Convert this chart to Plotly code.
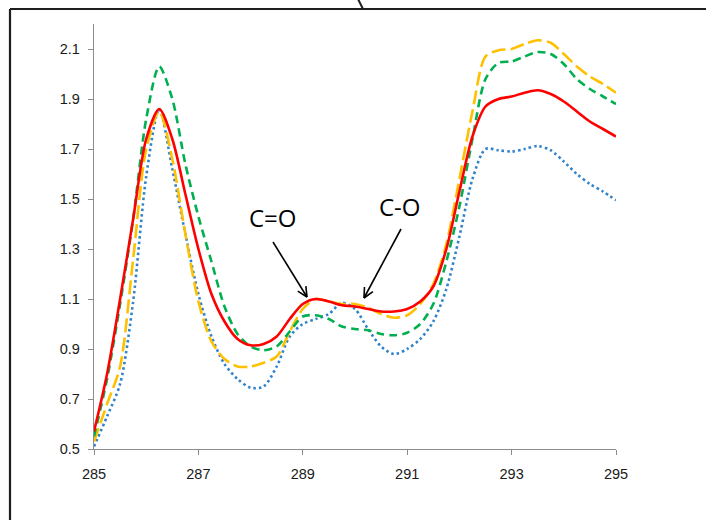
import plotly.graph_objects as go

# Binding energy (eV) grid shared by all four spectra
energy = [285, 285.25, 285.5, 285.75, 286, 286.25, 286.5, 286.75, 287, 287.25,
          287.5, 287.75, 288, 288.25, 288.5, 288.75, 289, 289.25, 289.5, 289.75,
          290, 290.25, 290.5, 290.75, 291, 291.25, 291.5, 291.75, 292, 292.25,
          292.5, 292.75, 293, 293.25, 293.5, 293.75, 294, 294.25, 294.5, 294.75, 295]

red_series = [0.57, 0.80, 1.10, 1.42, 1.74, 1.86, 1.74, 1.52, 1.30, 1.12,
              1.01, 0.94, 0.915, 0.92, 0.95, 1.02, 1.08, 1.10, 1.09, 1.075,
              1.07, 1.06, 1.05, 1.05, 1.06, 1.09, 1.15, 1.30, 1.53, 1.75,
              1.87, 1.90, 1.91, 1.925, 1.935, 1.92, 1.89, 1.85, 1.81, 1.78, 1.75]

green_series = [0.55, 0.78, 1.08, 1.42, 1.82, 2.03, 1.90, 1.64, 1.43, 1.25,
                1.07, 0.96, 0.91, 0.895, 0.91, 0.97, 1.03, 1.035, 1.02, 0.99,
                0.98, 0.975, 0.96, 0.955, 0.965, 1.00, 1.08, 1.25, 1.47, 1.74,
                1.98, 2.045, 2.05, 2.07, 2.088, 2.08, 2.04, 1.98, 1.94, 1.91, 1.88]

yellow_series = [0.53, 0.68, 0.83, 1.26, 1.70, 1.85, 1.66, 1.36, 1.09, 0.93,
                 0.86, 0.83, 0.83, 0.845, 0.87, 0.97, 1.06, 1.10, 1.09, 1.08,
                 1.08, 1.065, 1.04, 1.025, 1.035, 1.08, 1.16, 1.32, 1.58, 1.85,
                 2.07, 2.095, 2.10, 2.12, 2.135, 2.125, 2.08, 2.03, 1.99, 1.96, 1.925]

blue_series = [0.51, 0.63, 0.76, 1.09, 1.59, 1.86, 1.62, 1.36, 1.12, 0.95,
               0.84, 0.78, 0.745, 0.75, 0.83, 0.95, 1.00, 1.02, 1.04, 1.085,
               1.06, 0.98, 0.91, 0.88, 0.90, 0.94, 1.01, 1.14, 1.35, 1.58,
               1.70, 1.695, 1.69, 1.70, 1.712, 1.695, 1.65, 1.60, 1.56, 1.53, 1.495]

x_ticks = [285, 287, 289, 291, 293, 295]
y_ticks = [0.5, 0.7, 0.9, 1.1, 1.3, 1.5, 1.7, 1.9, 2.1]

W, H = 706, 520
ML, MR, MT, MB = 94, 90, 24, 71
PW, PH = W - ML - MR, H - MT - MB


def px(x, y):
    """Convert page pixels to paper fractions."""
    return (x - ML) / PW, (H - MB - y) / PH


fig = go.Figure()
styles = [
    (blue_series, "#2F83CC", "2.5px,3px"),
    (yellow_series, "#FFC000", "14px,5px"),
    (green_series, "#00B050", "8px,5px"),
    (red_series, "#FF0000", None),
]
for ys, col, dash in styles:
    line = dict(color=col, width=2.6, shape="spline", smoothing=0.8)
    if dash:
        line["dash"] = dash
    fig.add_trace(go.Scatter(x=energy, y=ys, mode="lines", line=line,
                             showlegend=False, hoverinfo="skip"))

shapes = []


def seg(x0, y0, x1, y1, color="#000000", width=1.6):
    a, b = px(x0, y0)
    c, d = px(x1, y1)
    shapes.append(dict(type="line", xref="paper", yref="paper",
                       x0=a, y0=b, x1=c, y1=d,
                       line=dict(color=color, width=width)))


def arrow(x0, y0, x1, y1, head=11, spread=0.45):
    import math
    seg(x0, y0, x1, y1)
    ang = math.atan2(y0 - y1, x0 - x1)
    for s in (-spread, spread):
        seg(x1, y1, x1 + head * math.cos(ang + s), y1 + head * math.sin(ang + s))


# outer frame (left and top edges) and the stray connector at the top
seg(10, 9, 706, 9, color="#1e1e1e", width=2.2)
seg(10, 9, 10, 520, color="#1e1e1e", width=2.2)
seg(358, -1, 363, 9, color="#1e1e1e", width=2)

arrow(273, 242, 307, 297)
arrow(401, 229, 364, 298)

annotations = []
for label, cx, cy in [("C=O", 273, 218), ("C-O", 400, 206)]:
    ax, ay = px(cx, cy)
    annotations.append(dict(text=label, x=ax, y=ay, xref="paper", yref="paper",
                            showarrow=False, xanchor="center", yanchor="middle",
                            font=dict(family="Open Sans", size=24, color="#000000")))

axis_common = dict(showgrid=False, zeroline=False, showline=True,
                   linecolor="#8c8c8c", linewidth=1.3, ticks="outside",
                   ticklen=5, tickcolor="#8c8c8c", tickwidth=1.3,
                   tickfont=dict(family="Liberation Sans", size=14.5, color="#1a1a1a"))

fig.update_layout(
    width=W, height=H,
    margin=dict(l=ML, r=MR, t=MT, b=MB),
    paper_bgcolor="white", plot_bgcolor="white",
    xaxis=dict(range=[285, 295], tickvals=x_ticks, ticklabelstandoff=6, **axis_common),
    yaxis=dict(range=[0.5, 2.2], tickvals=y_ticks, tickformat=".1f",
               ticklabelstandoff=5, **axis_common),
    shapes=shapes,
    annotations=annotations,
)

fig.write_html("out.html")
